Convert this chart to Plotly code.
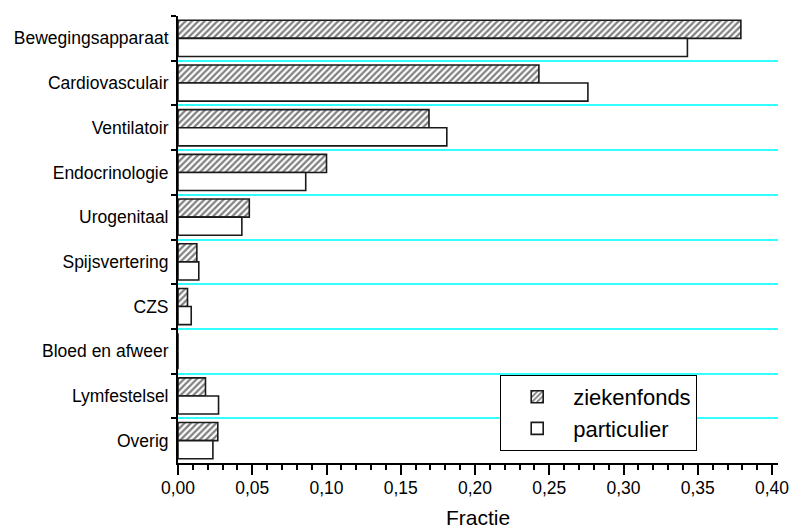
import plotly.graph_objects as go

# Body-system categories, top to bottom
categories = [
    "Bewegingsapparaat", "Cardiovasculair", "Ventilatoir", "Endocrinologie",
    "Urogenitaal", "Spijsvertering", "CZS", "Bloed en afweer",
    "Lymfestelsel", "Overig",
]

# Fraction per category for both insurance groups
ziekenfonds = [0.379, 0.243, 0.169, 0.100, 0.048, 0.0127, 0.0064, 0.0, 0.0185, 0.0268]
particulier = [0.343, 0.276, 0.181, 0.086, 0.043, 0.0140, 0.0089, 0.0, 0.0273, 0.0235]

x_ticks = [0.00, 0.05, 0.10, 0.15, 0.20, 0.25, 0.30, 0.35, 0.40]

FONT = "Liberation Sans, Arial, sans-serif"
EDGE = dict(color="#1a1a1a", width=1.6)

fig = go.Figure()
fig.add_trace(go.Bar(
    y=categories, x=ziekenfonds, orientation="h", name="ziekenfonds",
    marker=dict(color="white", line=EDGE,
                pattern=dict(shape="/", fgcolor="black", bgcolor="white",
                             size=4.5, solidity=0.5)),
))
fig.add_trace(go.Bar(
    y=categories, x=particulier, orientation="h", name="particulier",
    marker=dict(color="white", line=EDGE),
))

fig.update_layout(
    width=791, height=529,
    margin=dict(l=178, r=13, t=16, b=66),
    paper_bgcolor="white", plot_bgcolor="white",
    barmode="group", bargap=0.19, bargroupgap=0,
    separators=",.",
    font=dict(family=FONT, size=17.5, color="black"),
    showlegend=True,
    legend=dict(
        x=0.537, y=0.197, xanchor="left", yanchor="top",
        bgcolor="white", bordercolor="black", borderwidth=1,
        font=dict(size=22), tracegroupgap=0, itemwidth=62,
    ),
    xaxis=dict(
        range=[0, 0.404], tickvals=x_ticks, tickformat=".2f",
        ticks="outside", ticklen=10, tickwidth=2, tickcolor="black",
        minor=dict(dtick=0.01, ticks="outside", ticklen=5, tickwidth=1.5,
                   tickcolor="black", showgrid=False),
        showline=True, linecolor="black", linewidth=2,
        showgrid=False, zeroline=False, automargin=False,
        ticklabelstandoff=-2,
        title=dict(text="Fractie", font=dict(size=21), standoff=15),
    ),
    yaxis=dict(
        type="category", categoryorder="array", categoryarray=categories,
        autorange="reversed", tickson="boundaries", automargin=False,
        ticks="outside", ticklen=5, tickwidth=2, tickcolor="black",
        ticklabelstandoff=4,
        showline=True, linecolor="black", linewidth=2,
        showgrid=True, gridcolor="#33ffff", gridwidth=1.5,
        zeroline=False,
    ),
    yaxis2=dict(
        overlaying="y", side="left", type="category",
        categoryorder="array", categoryarray=categories,
        range=[len(categories) - 0.5, -0.5], tickson="boundaries",
        ticks="inside", ticklen=5, tickwidth=2, tickcolor="black",
        showticklabels=False, showgrid=False, showline=False, zeroline=False,
    ),
)

fig.write_html("out.html")
